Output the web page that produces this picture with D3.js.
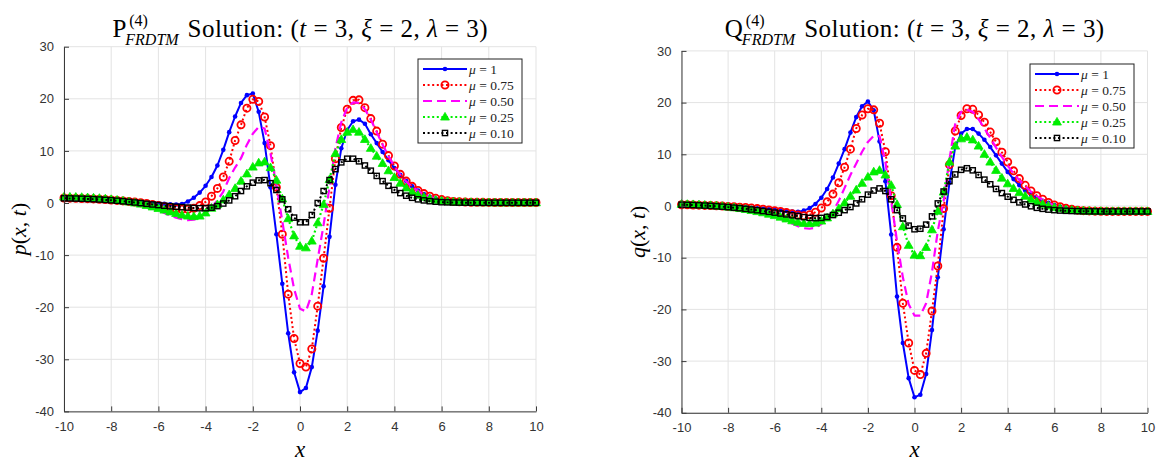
<!DOCTYPE html>
<html><head><meta charset="utf-8">
<script src="https://cdn.jsdelivr.net/npm/d3@7"></script>
<style>html,body{margin:0;padding:0;background:#fff;}svg{display:block;}</style>
</head><body>
<svg id="chart" width="1163" height="461"></svg>
<script>
// ---------- DATA ----------
const xValues = [-10,-9.75,-9.5,-9.25,-9,-8.75,-8.5,-8.25,-8,-7.75,-7.5,-7.25,-7,-6.75,-6.5,-6.25,-6,-5.75,-5.5,-5.25,-5,-4.75,-4.5,-4.25,-4,-3.75,-3.5,-3.25,-3,-2.75,-2.5,-2.25,-2,-1.75,-1.5,-1.25,-1,-0.75,-0.5,-0.25,0,0.25,0.5,0.75,1,1.25,1.5,1.75,2,2.25,2.5,2.75,3,3.25,3.5,3.75,4,4.25,4.5,4.75,5,5.25,5.5,5.75,6,6.25,6.5,6.75,7,7.25,7.5,7.75,8,8.25,8.5,8.75,9,9.25,9.5,9.75,10];

const xTicks = [-10,-8,-6,-4,-2,0,2,4,6,8,10];
const yTicks = [-40,-30,-20,-10,0,10,20,30];
const muLabels = ['1','0.75','0.50','0.25','0.10'];

// p(x,t) series
const pMu100 = [0.8,0.78,0.75,0.72, 0.68,0.64,0.6,0.55, 0.5,0.45,0.4,0.33, 0.27,0.2,0.12,0.05, -0.05,-0.15,-0.25,-0.3, -0.2,0.3,1.0,2.0, 3.3,5.0,7.2,10.2, 13.6,16.6,19.2,20.7, 21.0,17.5,11.5,3.0, -6.0,-15.5,-25.0,-32.5, -36.3,-35.5,-31.5,-24.5, -16.0,-6.5,3.5,10.5, 14.0,15.7,16.0,15.2, 13.2,11.5,9.8,8.2, 6.7,5.4,4.2,3.2, 2.4,1.7,1.2,0.85, 0.6,0.45,0.35,0.3, 0.27,0.25,0.23,0.22, 0.21,0.2,0.2,0.2, 0.2,0.2,0.2,0.2, 0.2];
const pMu075 = [0.95,0.93,0.9,0.87, 0.83,0.78,0.72,0.65, 0.58,0.5,0.4,0.3, 0.18,0.05,-0.1,-0.3, -0.5,-0.7,-0.9,-1.1, -1.2,-1.2,-1.0,-0.5, 0.2,1.3,2.8,5.0, 8.0,12.0,15.0,18.2, 19.9,19.5,16.5,11.0, 3.0,-6.0,-17.5,-26.0, -30.8,-31.5,-28.0,-19.8, -10.6,-1.0,8.5,14.5, 18.0,19.7,19.8,18.3, 16.2,13.8,11.3,9.1, 7.1,5.5,4.2,3.2, 2.4,1.8,1.3,0.9, 0.65,0.45,0.3,0.22, 0.18,0.15,0.13,0.12, 0.11,0.1,0.1,0.1, 0.1,0.1,0.1,0.1, 0.1];
const pMu050 = [1.0,0.97,0.93,0.88, 0.82,0.75,0.66,0.56, 0.44,0.3,0.14,-0.05, -0.27,-0.5,-0.8,-1.1, -1.5,-1.9,-2.4,-2.8, -3.1,-3.3,-3.2,-2.8, -2.0,-0.9,0.5,2.2, 4.8,6.8,8.6,11.2, 13.3,14.6,14.3,9.5, 3.5,-3.5,-10.5,-16.5, -20.3,-20.8,-17.5,-10.8, -4.2,3.0,10.5,15.5, 18.3,19.3,19.2,18.0, 16.0,13.6,11.2,9.0, 7.0,5.4,4.1,3.1, 2.3,1.7,1.2,0.85, 0.6,0.4,0.3,0.22, 0.18,0.15,0.13,0.12, 0.11,0.1,0.1,0.1, 0.1,0.1,0.1,0.1, 0.1];
const pMu025 = [1.15,1.15,1.12,1.08, 1.03,0.97,0.9,0.8, 0.68,0.55,0.4,0.22, 0.02,-0.2,-0.45,-0.75, -1.05,-1.35,-1.7,-2.0, -2.3,-2.5,-2.6,-2.5, -1.9,-1.0,-0.3,0.6, 1.6,2.8,4.2,5.6, 6.9,7.7,7.9,6.8, 4.4,0.8,-3.0,-6.3, -8.3,-8.6,-7.3,-3.8, -0.3,4.5,9.5,12.2, 13.6,14.1,13.6,12.2, 10.5,9.0,7.6,6.2, 4.9,3.8,2.9,2.1, 1.5,1.1,0.8,0.55, 0.4,0.3,0.2,0.15, 0.12,0.1,0.08,0.07, 0.06,0.05,0.05,0.05, 0.05,0.05,0.05,0.05, 0.05];
const pMu010 = [0.9,0.88,0.85,0.82, 0.78,0.73,0.67,0.6, 0.52,0.43,0.33,0.22, 0.1,-0.02,-0.15,-0.28, -0.4,-0.52,-0.63,-0.72, -0.8,-0.88,-0.95,-1.0, -1.0,-0.9,-0.6,-0.1, 0.5,1.3,2.3,3.2, 3.9,4.35,4.4,3.8, 2.5,0.7,-1.2,-2.8, -3.7,-3.7,-2.3,0.0, 2.3,4.4,6.5,7.8, 8.5,8.5,8.0,7.2, 6.2,5.2,4.2,3.3, 2.5,1.9,1.4,1.0, 0.7,0.5,0.35,0.25, 0.15,0.12,0.1,0.08, 0.07,0.06,0.05,0.05, 0.05,0.05,0.05,0.05, 0.05,0.05,0.05,0.05, 0.05];

// q(x,t) series
const qMu100 = [0.2,0.18,0.15,0.12, 0.08,0.04,0.0,-0.05, -0.1,-0.15,-0.2,-0.27, -0.35,-0.43,-0.52,-0.62, -0.72,-0.83,-0.95,-1.05, -1.1,-0.9,-0.4,0.4, 1.6,3.3,5.5,8.2, 11.0,14.2,17.2,19.3, 20.2,18.5,12.5,4.8, -5.5,-17.5,-26.5,-33.3, -37.0,-36.5,-32.5,-24.0, -13.8,-4.5,4.5,11.5, 14.0,14.9,14.9,14.0, 12.8,11.4,9.8,8.2, 6.6,5.2,4.0,3.0, 2.2,1.6,1.0,0.6, 0.2,-0.15,-0.45,-0.65, -0.8,-0.9,-0.95,-1.0, -1.02,-1.04,-1.05,-1.05, -1.05,-1.05,-1.05,-1.05, -1.05];
const qMu075 = [0.25,0.22,0.2,0.16, 0.12,0.08,0.03,-0.02, -0.08,-0.15,-0.22,-0.3, -0.4,-0.5,-0.62,-0.75, -0.9,-1.05,-1.25,-1.5, -1.75,-1.9,-1.7,-1.2, -0.4,0.8,2.3,4.5, 7.5,11.0,15.0,17.6, 18.8,18.6,16.0,10.5, 2.0,-8.0,-18.8,-26.5, -31.8,-32.6,-28.5,-20.3, -11.6,-0.5,8.0,14.5, 17.5,18.8,18.7,17.6, 16.2,14.3,12.4,10.4, 8.5,6.8,5.3,4.0, 2.9,2.0,1.3,0.7, 0.2,-0.15,-0.45,-0.65, -0.8,-0.9,-0.95,-1.0, -1.02,-1.04,-1.05,-1.05, -1.05,-1.05,-1.05,-1.05, -1.05];
const qMu050 = [0.3,0.27,0.23,0.18, 0.12,0.05,-0.03,-0.12, -0.22,-0.35,-0.5,-0.68, -0.88,-1.1,-1.4,-1.75, -2.1,-2.5,-2.95,-3.4, -3.9,-4.3,-4.4,-4.2, -3.5,-2.5,-1.0,1.0, 3.5,6.0,8.2,10.5, 12.4,13.6,13.5,8.5, 1.0,-6.8,-13.8,-19.0, -21.2,-21.2,-18.8,-12.8, -4.8,1.0,9.0,16.0, 18.2,18.6,18.2,16.8, 15.0,13.2,11.3,9.5, 7.8,6.3,5.0,3.8, 2.8,1.9,1.2,0.6, 0.15,-0.2,-0.5,-0.7, -0.85,-0.95,-1.0,-1.02, -1.04,-1.05,-1.05,-1.05, -1.05,-1.05,-1.05,-1.05, -1.05];
const qMu025 = [0.35,0.32,0.28,0.23, 0.17,0.1,0.02,-0.08, -0.2,-0.33,-0.48,-0.65, -0.85,-1.07,-1.3,-1.57, -1.85,-2.15,-2.5,-2.85, -3.15,-3.35,-3.4,-3.3, -2.9,-2.3,-1.5,-0.5, 0.6,1.9,3.1,4.4, 5.6,6.6,6.9,6.0, 4.0,0.3,-4.0,-7.6, -9.5,-9.6,-8.0,-4.6, -1.0,2.7,8.5,11.6, 13.0,13.3,12.8,11.6, 10.0,8.5,6.9,5.4, 4.3,3.4,2.6,1.9, 1.3,0.8,0.35,0.0, -0.3,-0.5,-0.7,-0.82, -0.9,-0.95,-1.0,-1.02, -1.04,-1.05,-1.05,-1.05, -1.05,-1.05,-1.05,-1.05, -1.05];
const qMu010 = [0.25,0.22,0.18,0.13, 0.08,0.02,-0.05,-0.13, -0.22,-0.32,-0.43,-0.55, -0.68,-0.82,-0.97,-1.12, -1.28,-1.45,-1.62,-1.8, -1.97,-2.15,-2.3,-2.35, -2.3,-2.1,-1.75,-1.3, -0.8,-0.2,0.5,1.3, 2.2,3.0,3.4,2.9, 1.3,-0.8,-2.4,-3.8, -4.5,-4.4,-3.6,-2.0, 0.5,2.8,4.8,6.1, 7.0,7.3,6.9,6.0, 5.1,4.2,3.3,2.5, 1.8,1.2,0.7,0.3, -0.05,-0.35,-0.55,-0.7, -0.8,-0.88,-0.93,-0.97, -1.0,-1.02,-1.03,-1.04, -1.05,-1.05,-1.05,-1.05, -1.05,-1.05,-1.05,-1.05, -1.05];

// ---------- STYLES / LAYOUT ----------
const styles = [
  {color:'#0000ff', dash:null,    width:2,   marker:'dot'},
  {color:'#ff0000', dash:'2,2.6', width:2,   marker:'circle'},
  {color:'#ff00ff', dash:'9,5',   width:2.2, marker:null},
  {color:'#00ee00', dash:'2,2.6', width:2.2, marker:'triangle'},
  {color:'#000000', dash:'2,2.6', width:2,   marker:'square'}
];
const panels = [
  {x0:64, x1:536, y0:46.7, y1:411.4, letter:'P', ylab:'p', ylabX:26,
   series:[pMu100,pMu075,pMu050,pMu025,pMu010], legX:418, legY:59},
  {x0:681.5, x1:1147.5, y0:50.9, y1:412.8, letter:'Q', ylab:'q', ylabX:645,
   series:[qMu100,qMu075,qMu050,qMu025,qMu010], legX:1030, legY:64}
];

const svg = d3.select('#chart');
const SERIF = "'Liberation Serif','DejaVu Serif',serif";
const SANS = "'Liberation Sans',Arial,sans-serif";

function drawMarker(g, type, cx, cy, color) {
  if (type === 'dot') {
    g.append('circle').attr('cx',cx).attr('cy',cy).attr('r',2.3).attr('fill',color);
  } else if (type === 'circle') {
    g.append('circle').attr('cx',cx).attr('cy',cy).attr('r',3.6)
      .attr('fill','none').attr('stroke',color).attr('stroke-width',1.8);
  } else if (type === 'triangle') {
    g.append('path').attr('d', d3.symbol(d3.symbolTriangle, 34)())
      .attr('transform',`translate(${cx},${cy+0.5})`).attr('fill',color).attr('stroke',color).attr('stroke-width',0.8);
  } else if (type === 'square') {
    g.append('rect').attr('x',cx-2.6).attr('y',cy-2.6).attr('width',5.2).attr('height',5.2)
      .attr('fill','none').attr('stroke',color).attr('stroke-width',1.4);
  }
}

panels.forEach(P => {
  const x = d3.scaleLinear().domain([-10,10]).range([P.x0,P.x1]);
  const y = d3.scaleLinear().domain([-40,30]).range([P.y1,P.y0]);
  const g = svg.append('g');

  // grid
  g.append('g').selectAll('line.gx').data(xTicks).join('line')
    .attr('x1',d=>x(d)).attr('x2',d=>x(d)).attr('y1',P.y0).attr('y2',P.y1)
    .attr('stroke','#e3e3e3').attr('stroke-width',1);
  g.append('g').selectAll('line.gy').data(yTicks).join('line')
    .attr('y1',d=>y(d)).attr('y2',d=>y(d)).attr('x1',P.x0).attr('x2',P.x1)
    .attr('stroke','#e3e3e3').attr('stroke-width',1);

  // series
  const line = d3.line().x((d,i)=>x(xValues[i])).y(d=>y(d));
  P.series.forEach((s,k) => {
    const st = styles[k];
    const sg = g.append('g');
    sg.append('path').attr('d', line(s)).attr('fill','none')
      .attr('stroke',st.color).attr('stroke-width',st.width)
      .attr('stroke-dasharray',st.dash).attr('stroke-linejoin','round');
    if (st.marker) s.forEach((v,i) => drawMarker(sg, st.marker, x(xValues[i]), y(v), st.color));
  });

  // axes
  const fmt = d => String(d);
  const ax = g.append('g').attr('transform',`translate(0,${P.y1})`)
    .call(d3.axisBottom(x).tickValues(xTicks).tickFormat(fmt).tickSizeInner(-5).tickSizeOuter(0).tickPadding(10));
  const ay = g.append('g').attr('transform',`translate(${P.x0},0)`)
    .call(d3.axisLeft(y).tickValues(yTicks).tickFormat(fmt).tickSizeInner(-5).tickSizeOuter(0).tickPadding(10));
  [ax,ay].forEach(a => {
    a.selectAll('path,line').attr('stroke','#3a3a3a').attr('stroke-width',1);
    a.selectAll('text').attr('font-family',SANS).attr('font-size',13).attr('fill','#333');
  });

  // axis labels
  svg.append('text').attr('x',(P.x0+P.x1)/2).attr('y',457).attr('text-anchor','middle')
    .attr('font-family',SERIF).attr('font-size',23).attr('font-style','italic').text('x');
  const yl = svg.append('text').attr('transform',`translate(${P.ylabX},${(P.y0+P.y1)/2}) rotate(-90)`)
    .attr('text-anchor','middle').attr('font-family',SERIF).attr('font-size',22);
  yl.append('tspan').attr('font-style','italic').text(P.ylab);
  yl.append('tspan').text('(');
  yl.append('tspan').attr('font-style','italic').text('x');
  yl.append('tspan').text(', ');
  yl.append('tspan').attr('font-style','italic').text('t');
  yl.append('tspan').text(')');

  // title
  const tg = svg.append('g').attr('font-family',SERIF);
  const base = 37;
  const tMain = tg.append('text').attr('font-size',25).attr('y',base).text(P.letter);
  const tSup = tg.append('text').attr('font-size',16).attr('y',base-11).text('(4)');
  const tSub = tg.append('text').attr('font-size',16).attr('font-style','italic').attr('y',base+8).text('FRDTM');
  const tRest = tg.append('text').attr('font-size',25).attr('y',base);
  [['Solution:  (',false],['t',true],[' = 3, ',false],['ξ',true],[' = 2, ',false],['λ',true],[' = 3)',false]]
    .forEach(([t,it]) => tRest.append('tspan').attr('font-style',it?'italic':null).text(t));
  const wMain = tMain.node().getComputedTextLength();
  const wSup = tSup.node().getComputedTextLength();
  const wSub = tSub.node().getComputedTextLength();
  const restW = 300;
  tRest.attr('textLength',restW).attr('lengthAdjust','spacing');
  const total = wMain + Math.max(wSup,wSub) + 8 + restW;
  const sx = (P.x0+P.x1)/2 - total/2;
  tMain.attr('x',sx);
  tSup.attr('x',sx+wMain+3);
  tSub.attr('x',sx+wMain-1);
  tRest.attr('x',sx+wMain+Math.max(wSup,wSub)+8);

  // legend
  const lg = svg.append('g').attr('transform',`translate(${P.legX},${P.legY})`);
  lg.append('rect').attr('x',0).attr('y',0).attr('width',104).attr('height',84)
    .attr('fill','#fff').attr('stroke','#222').attr('stroke-width',1);
  muLabels.forEach((lab,k) => {
    const st = styles[k];
    const ry = 10 + 16*k;
    lg.append('line').attr('x1',5).attr('x2',49).attr('y1',ry).attr('y2',ry)
      .attr('stroke',st.color).attr('stroke-width',st.width).attr('stroke-dasharray',st.dash);
    if (st.marker) drawMarker(lg, st.marker, 27, ry, st.color);
    const tx = lg.append('text').attr('x',51).attr('y',ry+4.5).attr('font-family',SERIF).attr('font-size',13.5).attr('fill','#222');
    tx.append('tspan').attr('font-style','italic').text('μ');
    tx.append('tspan').text(' = ' + lab);
  });
});
</script>
</body></html>
